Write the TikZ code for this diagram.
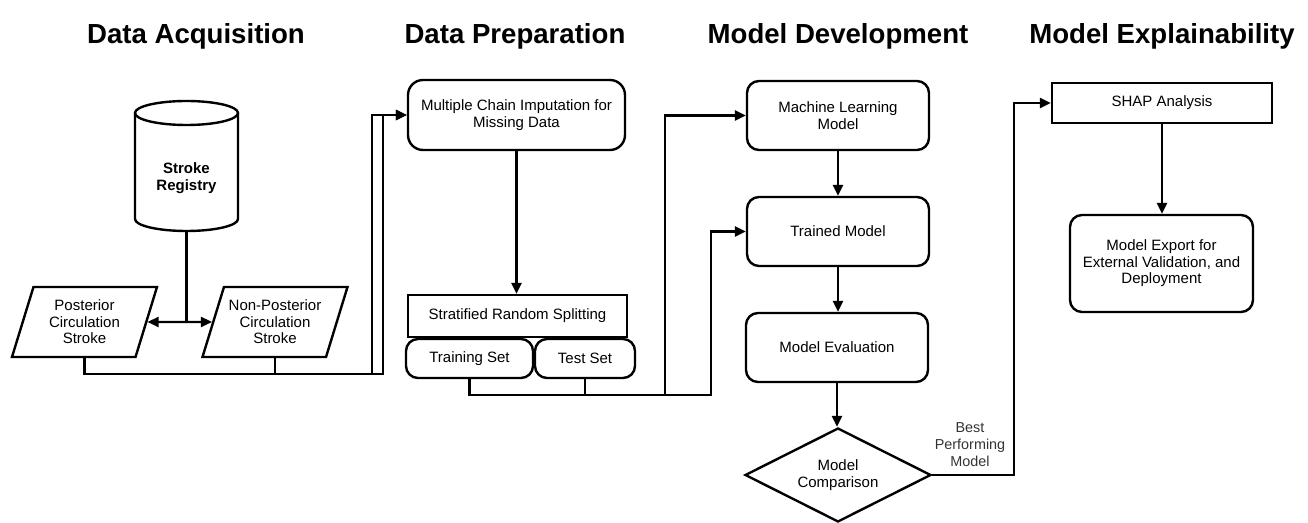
\documentclass[tikz,border=0pt]{standalone}
\usepackage{fontspec}
\setmainfont{Liberation Sans}
\usetikzlibrary{shapes.geometric,arrows.meta}
\begin{document}
\begin{tikzpicture}[x=0.5pt,y=-0.5pt,line width=1.2pt,
  arr/.style={-{Triangle[length=5.5pt,width=5pt]}},
  darr/.style={{Triangle[length=5.5pt,width=5pt]}-{Triangle[length=5.5pt,width=5pt]}},
  head/.style={font=\fontsize{13.8}{16}\selectfont\bfseries, anchor=base, inner sep=0pt},
  txt/.style={font=\fontsize{7.5}{8.3}\selectfont, align=center},
  rbox/.style={draw, rounded corners=6pt, txt, inner sep=0pt},
  sbox/.style={draw, txt, inner sep=0pt},
  para/.style={draw, trapezium, trapezium left angle=66, trapezium right angle=114,
    trapezium stretches body, minimum height=35pt, minimum width=72.5pt, txt, inner sep=1pt},
]
\useasboundingbox (0,0) rectangle (1308,523);

% headings
\node[head] (h1) at (196,44) {Data Acquisition};
\node[head] (h2) at (515,44) {Data Preparation};
\node[head] (h3) at (838,44) {Model Development};
\node[head] (h4) at (1162,44) {Model Explainability};

% cylinder
\draw (135,113) -- (135,219) arc[start angle=180, end angle=0, x radius=51.5, y radius=12] -- (238,113);
\draw (186.5,113) ellipse [x radius=51.5, y radius=12];
\node[txt, font=\fontsize{7.5}{8.5}\selectfont\bfseries] (reg) at (186.5,178.5) {Stroke\\Registry};
\coordinate (regb) at (186.5,232);

% parallelograms
\node[para] (pc) at (84.5,322) {Posterior\\Circulation\\Stroke};
\node[para] (npc) at (275,322) {Non-Posterior\\Circulation\\Stroke};

% data preparation
\node[rbox, rounded corners=7.5pt, minimum width=108.5pt, minimum height=35pt] (mci) at (516.5,115) {Multiple Chain Imputation for\\Missing Data};
\node[sbox, minimum width=109.5pt, minimum height=21pt] (split) at (517.5,316) {Stratified Random Splitting};
\node[rbox, minimum width=63.5pt, minimum height=19.5pt] (train) at (469.5,358.5) {Training Set};
\node[rbox, minimum width=50pt, minimum height=19.5pt] (test) at (585,358.5) {Test Set};

% model development
\node[rbox, minimum width=91pt, minimum height=34.5pt] (ml) at (838,115.5) {Machine Learning\\Model};
\node[rbox, minimum width=91pt, minimum height=34.5pt] (trained) at (838,231.5) {Trained Model};
\node[rbox, minimum width=91pt, minimum height=34.5pt] (eval) at (837,347.5) {Model Evaluation};
\node[draw, diamond, aspect=2, minimum width=93pt, minimum height=47pt, txt, inner sep=0pt] (comp) at (838,475) {Model\\Comparison};

% explainability
\node[sbox, minimum width=110pt, minimum height=20pt] (shap) at (1162,103) {SHAP Analysis};
\node[rbox, minimum width=91.5pt, minimum height=48.5pt] (export) at (1161.5,263.5) {Model Export for\\External Validation, and\\Deployment};

\node[txt, font=\fontsize{7.2}{8.5}\selectfont, text=black!80] (best) at (970,445) {Best\\Performing\\Model};

% junction coordinates
\coordinate (j1) at (372,374);
\coordinate (j2) at (383,374);
\coordinate (j3) at (665,395);
\coordinate (j4) at (711,395);
\coordinate (j5) at (1014,475);

% connectors
\draw (regb) -- (regb |- pc);
\draw[darr] (pc) -- (npc);
\draw[arr] (pc.south) |- (j1) |- (mci.west);
\draw[arr] (npc.south) |- (j2) |- (mci.west);
\draw[arr] (mci.south) -- (mci.south |- split.north);
\draw[arr] (train.south) |- (j3) |- (ml.west);
\draw[arr] (test.south) |- (j4) |- (trained.west);
\draw[arr] (ml) -- (trained);
\draw[arr] (trained) -- (trained |- eval.north);
\draw[arr] (eval) -- (eval |- comp.north);
\draw[arr] (comp.east) -- (j5) |- (shap.west);
\draw[arr] (shap.south) -- (shap.south |- export.north);
\end{tikzpicture}
\end{document}
